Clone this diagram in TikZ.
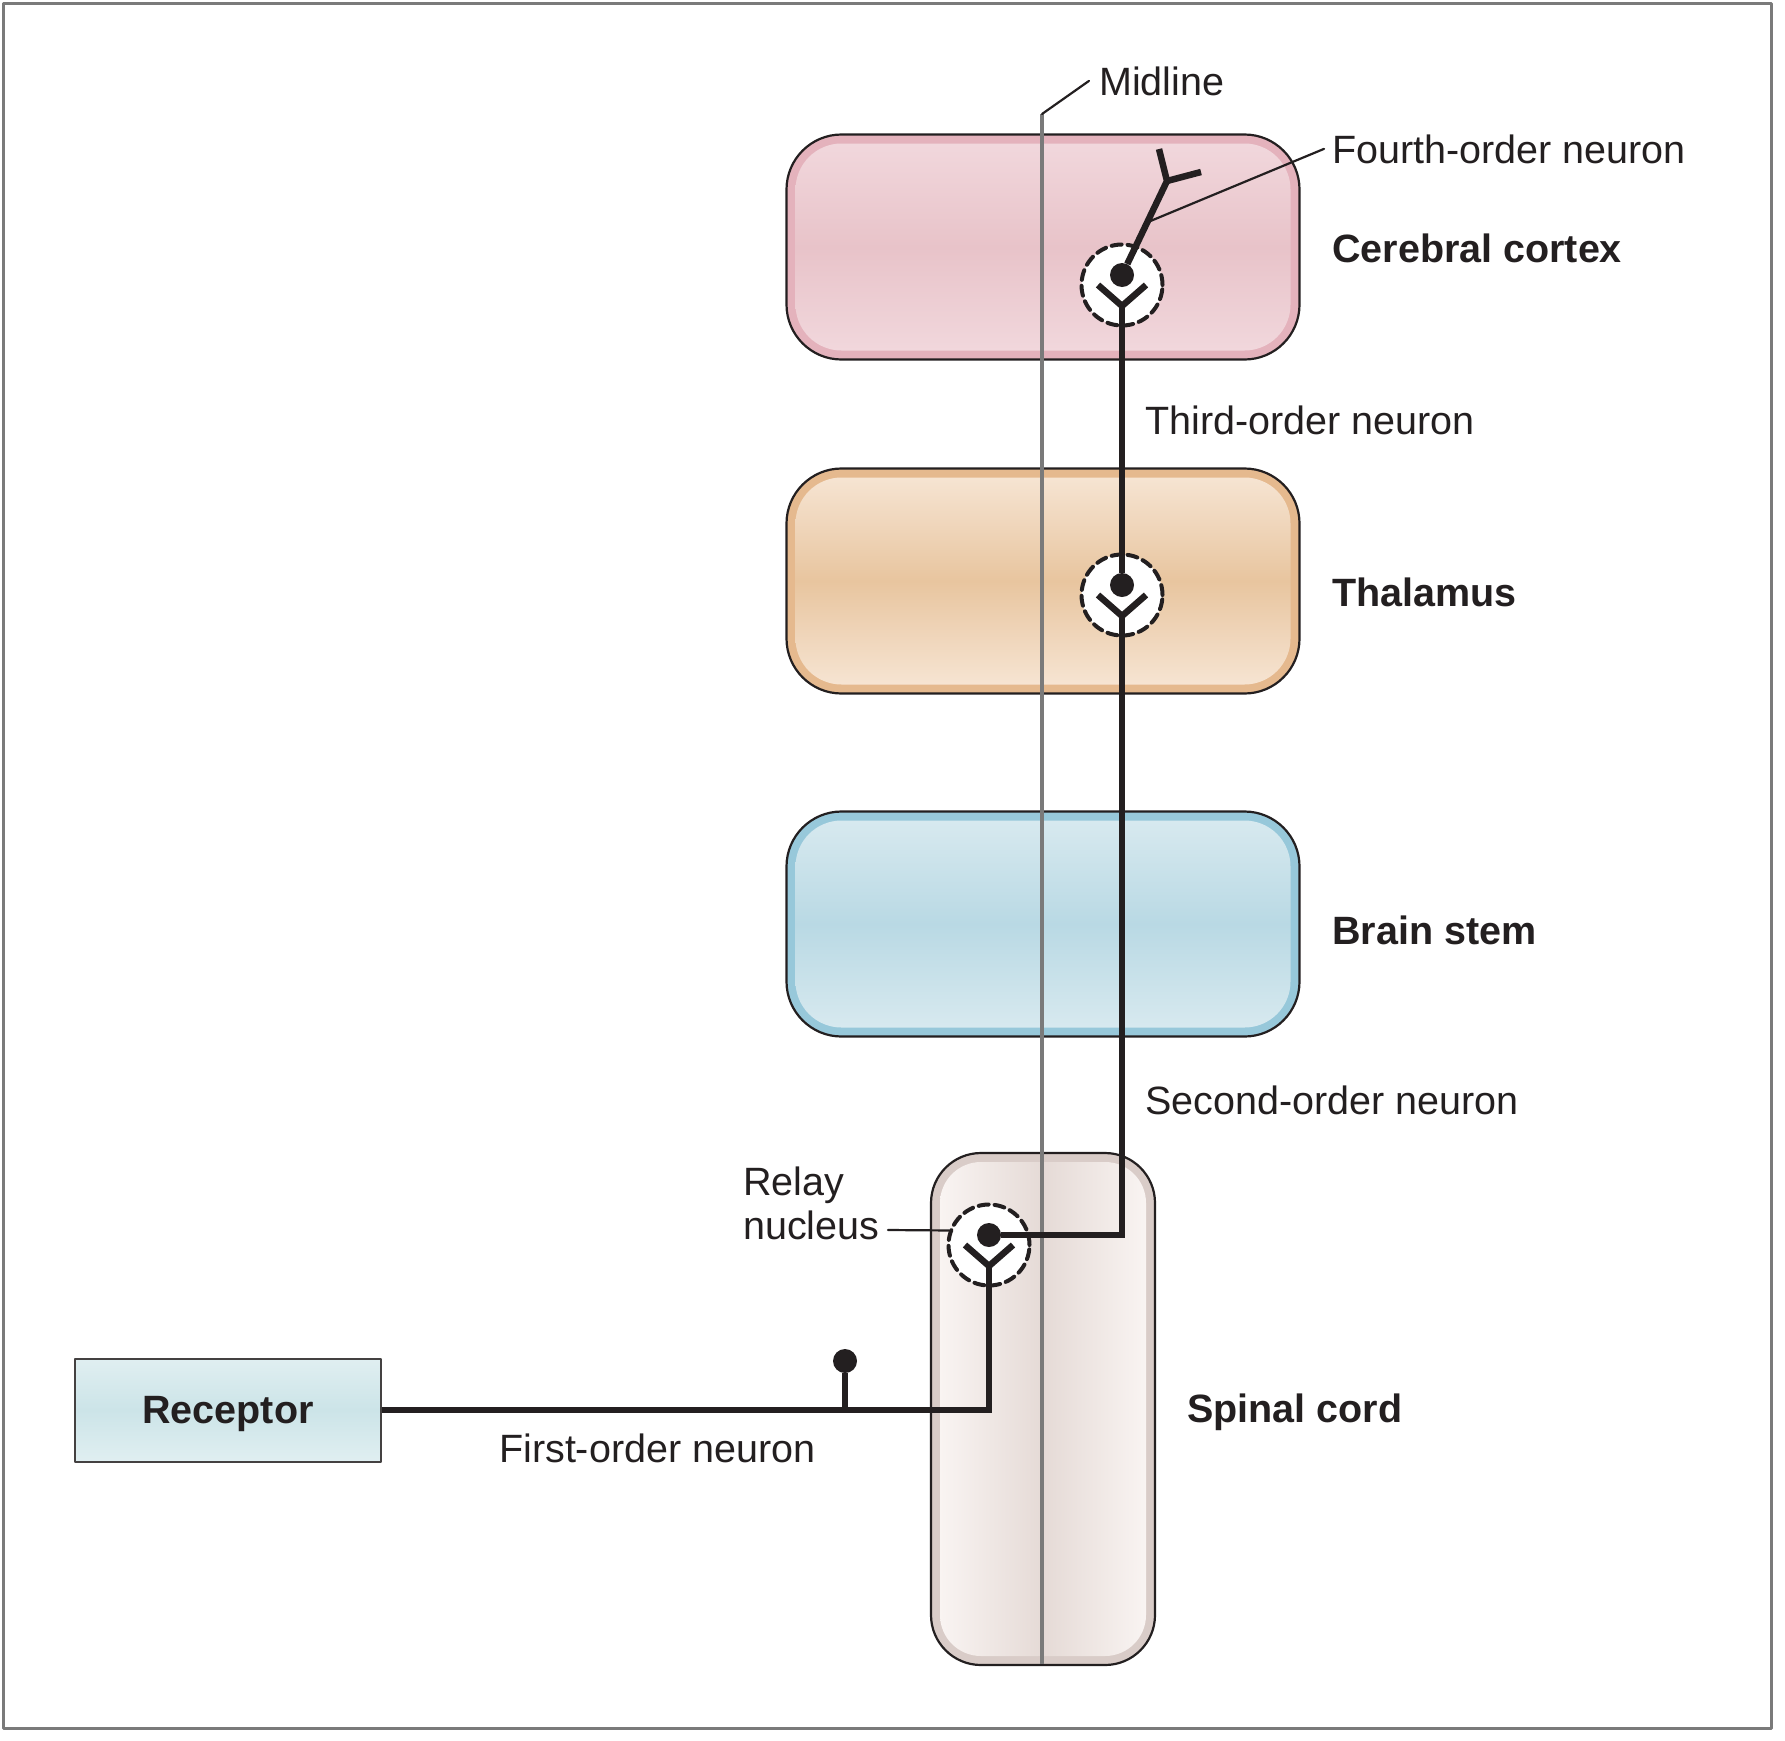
\documentclass[tikz,border=0pt]{standalone}
\usepackage{fontspec}
\setmainfont{Liberation Sans}
\usetikzlibrary{calc}
\definecolor{nrvInk}{HTML}{231F20}
\definecolor{nrvGrey}{HTML}{7A7A7A}
\definecolor{ctxRing}{HTML}{E4B2BC}
\definecolor{ctxFill}{HTML}{E8C3C9}
\definecolor{ctxLight}{HTML}{F1D7DC}
\definecolor{thalRing}{HTML}{E5B98E}
\definecolor{thalFill}{HTML}{E8C59F}
\definecolor{thalLight}{HTML}{F6E4D2}
\definecolor{stemRing}{HTML}{97C8DA}
\definecolor{stemFill}{HTML}{B9D9E4}
\definecolor{stemLight}{HTML}{D7E9EF}
\definecolor{cordRing}{HTML}{D9CCC8}
\definecolor{cordFill}{HTML}{E5DAD6}
\definecolor{cordLight}{HTML}{F9F4F2}
\definecolor{rcpFill}{HTML}{CCE4E8}
\definecolor{rcpLight}{HTML}{E0EFF1}
\begin{document}
\begin{tikzpicture}[x=1pt,y=-1pt,line cap=round,line join=round]
\useasboundingbox (0,0) rectangle (1785,1740);
\tikzset{organ/.style={draw=nrvInk,line width=2.2pt,rounded corners=55pt,inner sep=0pt,minimum width=513pt,minimum height=225pt},organin/.style={rounded corners=46pt,inner sep=0pt,minimum width=495pt,minimum height=207pt},cordbox/.style={organ,rounded corners=50pt,minimum width=224pt,minimum height=512pt},cordin/.style={organin,rounded corners=41pt,minimum width=206pt,minimum height=494pt},synapse/.style={circle,draw=nrvInk,fill=white,line width=4pt,dash pattern=on 10pt off 6pt,minimum size=81pt,inner sep=0pt},soma/.style={circle,fill=nrvInk,minimum size=24pt,inner sep=0pt},axon/.style={draw=nrvInk,line width=6.5pt,line cap=butt,line join=miter},leader/.style={draw=nrvInk,line width=2.2pt},midline/.style={draw=nrvGrey,line width=4pt,line cap=butt},lbl/.style={anchor=base west,inner sep=0pt,text=nrvInk,font=\fontsize{39.5}{44}\selectfont},organlbl/.style={lbl,font=\fontsize{39.5}{44}\selectfont\bfseries}}
\draw[nrvGrey,line width=3pt] (3,3) rectangle (1771,1728);
% brain regions and cord
\node[organ,fill=ctxRing] (cortex) at (1043,247) {};
\node[organin,top color=ctxLight,bottom color=ctxLight,middle color=ctxFill] (cortex-in) at (cortex) {};
\node[organ,fill=thalRing] (thalamus) at (1043,581) {};
\node[organin,top color=thalLight,bottom color=thalLight,middle color=thalFill] (thalamus-in) at (thalamus) {};
\node[organ,fill=stemRing] (stem) at (1043,924) {};
\node[organin,top color=stemLight,bottom color=stemLight,middle color=stemFill] (stem-in) at (stem) {};
\node[cordbox,fill=cordRing] (cord) at (1043,1409) {};
\node[cordin,left color=cordLight,right color=cordLight,middle color=cordFill] (cord-in) at (cord) {};
\node[draw=nrvInk!85,line width=2pt,minimum width=306pt,minimum height=103pt,text height=40pt,text depth=14pt,top color=rcpLight,bottom color=rcpLight,middle color=rcpFill,text=nrvInk,font=\fontsize{39.5}{44}\selectfont\bfseries] (receptor) at (228,1410) {Receptor};
% midline
\coordinate (midtop) at (1042,114);
\coordinate (midbot) at (1042,1664);
\draw[midline] (midtop) -- (midbot);
% synapses
\foreach \n/\x/\y in {relay/989/1245,thal/1122/595,ctx/1122/285}{
  \node[synapse] (\n) at (\x,\y) {};
  \node[soma] (\n-dot) at (\x,\y-10) {};
  \coordinate (\n-fork) at (\x,\y+21);
  \draw[axon] (\x-24,\y) -- (\n-fork) -- (\x+24,\y);
}
% neurons
\coordinate (branch) at (845,1410);
\node[soma] (branch-dot) at (845,1361) {};
\draw[axon] (receptor.east) -- (relay-fork |- receptor.east) -- (relay-fork);
\draw[axon,line width=5.5pt] (branch) -- (branch-dot);
\draw[axon] (relay-dot) -| (thal-fork);
\draw[axon] (thal-dot) -- (ctx-fork);
\coordinate (ctx-split) at (1167,181);
\coordinate (ctx-tip-a) at (1159,149);
\coordinate (ctx-tip-b) at (1201,172);
\draw[axon] (ctx-dot) -- (ctx-split) -- (ctx-tip-a);
\draw[axon] (ctx-split) -- (ctx-tip-b);
% labels
\node[lbl] (midlbl) at (1099,95) {Midline};
\node[lbl] (fourthlbl) at (1332,163) {Fourth-order neuron};
\node[organlbl] (cortexlbl) at (1332,262) {Cerebral cortex};
\node[lbl] (thirdlbl) at (1145,434) {Third-order neuron};
\node[organlbl] (thallbl) at (1332,606) {Thalamus};
\node[organlbl] (stemlbl) at (1332,944) {Brain stem};
\node[lbl] (secondlbl) at (1145,1114) {Second-order neuron};
\node[lbl,align=left] (relaylbl) at (743,1239) {Relay\\nucleus};
\node[organlbl] (cordlbl) at (1187,1422) {Spinal cord};
\node[lbl] (firstlbl) at (499,1462) {First-order neuron};
% leaders
\draw[leader] (midtop) -- ($(midlbl.west)+(-10,0)$);
\draw[leader] ($(ctx-dot)!0.56!(ctx-split)$) -- ($(fourthlbl.west)+(-8,0)$);
\draw[leader] (888,1230) -- (relay.160);
\end{tikzpicture}
\end{document}
